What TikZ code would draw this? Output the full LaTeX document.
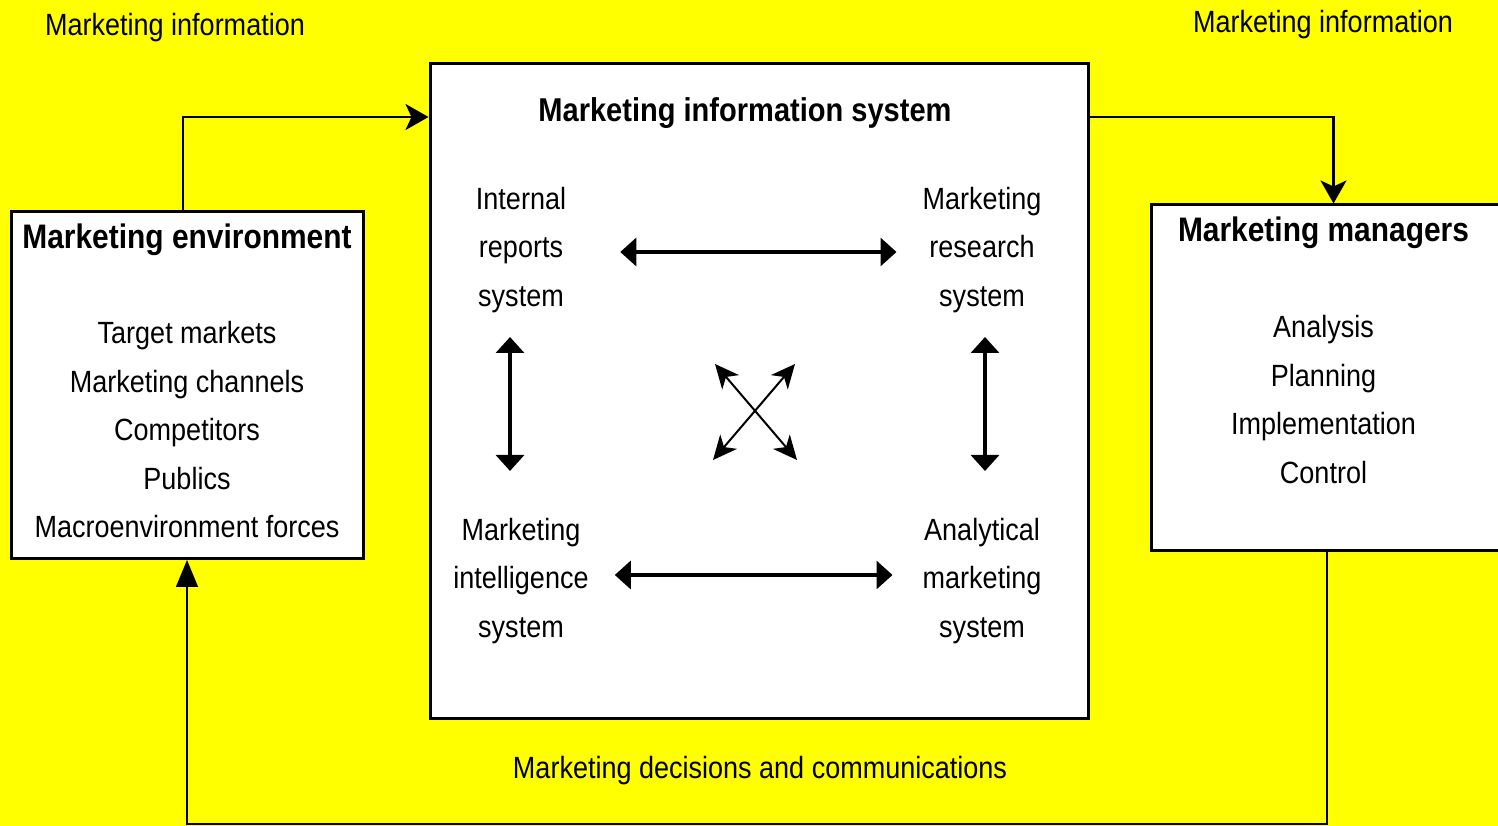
\documentclass[tikz,border=0pt]{standalone}
\usepackage{fontspec}
\setmainfont{Liberation Sans}[FakeStretch=0.88]
\usetikzlibrary{positioning, arrows.meta}
\definecolor{signal}{RGB}{255,255,0}

\begin{document}
\begin{tikzpicture}[x=1pt, y=1pt,
    panel/.style={draw, line width=3pt, fill=white, inner sep=0pt},
    heading/.style={font=\fontsize{34}{40}\selectfont\bfseries, inner sep=0pt},
    entry/.style={font=\fontsize{30.7}{48.5}\selectfont, align=center, inner sep=0pt},
    twoway/.style={{Triangle[width=28pt,length=16pt]}-{Triangle[width=28pt,length=16pt]}, line width=3.3pt},
    crossway/.style={{Stealth[length=24pt,width=22pt,inset=7pt]}-{Stealth[length=24pt,width=22pt,inset=7pt]}, line width=2pt},
    flow/.style={-{Stealth[length=23pt,width=26pt,inset=6pt]}, line width=2.5pt},
    feedback/.style={-{Triangle[length=27pt,width=22pt]}, line width=1.5pt}]
      \useasboundingbox (0,0) rectangle (1498,826);
      \clip (0,0) rectangle (1498,826);
      \fill[signal] (0,0) rectangle (1498,826);

      \node[panel, minimum width=352pt, minimum height=347pt] (env) at (187,441) {};
      \node[panel, minimum width=658pt, minimum height=655.5pt] (mis) at (759,435) {};
      \node[panel, minimum width=365pt, minimum height=346pt] (mgr) at (1333.5,448) {};

      \node[heading, below=14pt of env.north] (envhead) {Marketing environment};
      \node[entry, below=65pt of envhead] (envlist) {Target markets\\Marketing channels\\Competitors\\Publics\\Macroenvironment forces};
      \node[heading, below=13.5pt of mgr.north, xshift=-10pt] (mgrhead) {Marketing managers};
      \node[entry, below=66pt of mgrhead] (mgrlist) {Analysis\\Planning\\Implementation\\Control};
      \node[heading, font=\fontsize{33}{40}\selectfont\bfseries, below=36pt of mis.north, xshift=-14pt] (mishead) {Marketing information system};

      \node[entry] (ir) at (521,576) {Internal\\reports\\system};
      \node[entry] (mr) at (982,576) {Marketing\\research\\system};
      \node[entry] (mi) at (521,245) {Marketing\\intelligence\\system};
      \node[entry] (am) at (982,245) {Analytical\\marketing\\system};

      \node[entry] (infoin) at (175,798) {Marketing information};
      \node[entry] (infoout) at (1323,801) {Marketing information};
      \node[entry] (decisions) at (760,55) {Marketing decisions and communications};

      \coordinate (infolevel) at (0,709);
      \coordinate (floor) at (0,2);
      \coordinate (hub) at (755,414);
      \draw[flow] ([xshift=-4pt]env.north) |- (infolevel -| mis.west);
      \draw[flow] (infolevel -| mis.east) -| (mgr.north);
      \draw[feedback] ([xshift=-6.5pt]mgr.south) |- (floor -| env.south) -- (env.south);

      \draw[twoway, shorten <=54pt, shorten >=26pt] ([yshift=-2pt]ir.east) -- ([yshift=-2pt]mr.west);
      \draw[twoway, shorten <=26pt, shorten >=30pt] ([yshift=6pt]mi.east) -- ([yshift=6pt]am.west);
      \draw[twoway, shorten <=24pt, shorten >=47pt] ([xshift=-11pt]ir.south) -- ([xshift=-11pt]mi.north);
      \draw[twoway, shorten <=24pt, shorten >=47pt] ([xshift=3pt]mr.south) -- ([xshift=3pt]am.north);
      \draw[crossway] ([shift={(-40,48)}]hub) -- ([shift={(42,-48)}]hub);
      \draw[crossway] ([shift={(40,48)}]hub) -- ([shift={(-42,-48)}]hub);
    \end{tikzpicture}
\end{document}
